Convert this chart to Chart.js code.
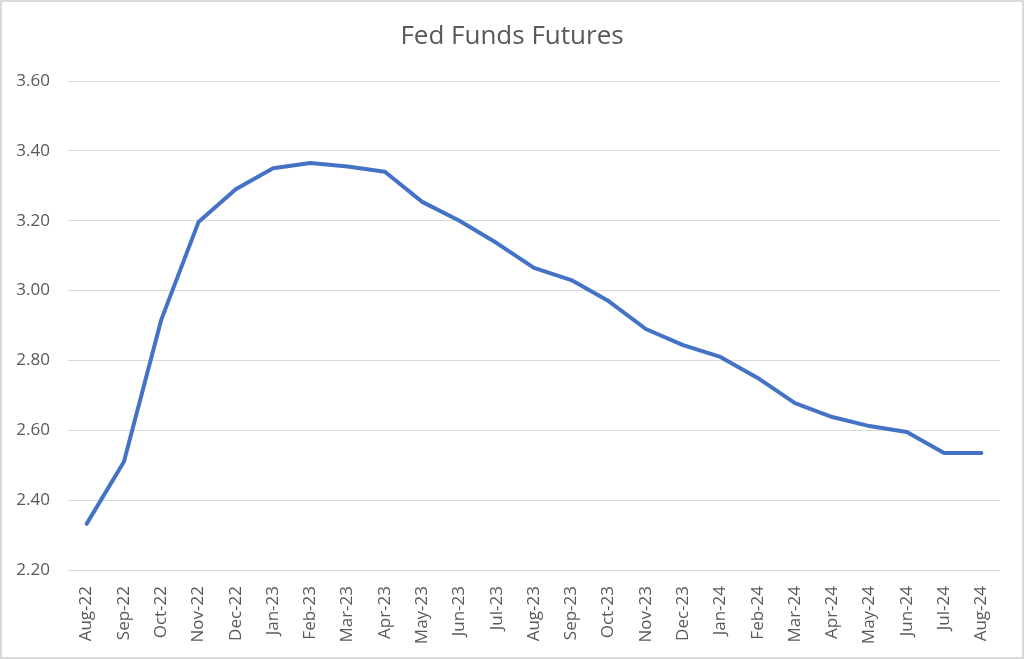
<!DOCTYPE html>
<html>
<head>
<meta charset="utf-8">
<script src="https://cdn.jsdelivr.net/npm/chart.js@4/dist/chart.umd.min.js"></script>
<style>
  html, body { margin: 0; padding: 0; background: #fff; }
  #wrap { width: 1024px; height: 659px; position: relative; }
</style>
</head>
<body>
<div id="wrap"><canvas id="chart"></canvas></div>
<script>
// ─── DATA ───
const months = ['Aug-22','Sep-22','Oct-22','Nov-22','Dec-22','Jan-23','Feb-23','Mar-23','Apr-23',
  'May-23','Jun-23','Jul-23','Aug-23','Sep-23','Oct-23','Nov-23','Dec-23','Jan-24','Feb-24',
  'Mar-24','Apr-24','May-24','Jun-24','Jul-24','Aug-24'];
const futures = [2.332, 2.51, 2.916, 3.196, 3.29, 3.35, 3.365, 3.355, 3.34,
  3.254, 3.20, 3.136, 3.065, 3.03, 2.97, 2.89, 2.844, 2.81, 2.75,
  2.678, 2.638, 2.612, 2.595, 2.535, 2.535];
const yMin = 2.2, yMax = 3.6, yStep = 0.2;

const fontFam = '"Open Sans", "Noto Sans", sans-serif';
const grey = '#595959';

// border round the whole picture
const frame = {
  id: 'frame',
  afterDraw(c) {
    const ctx = c.ctx;
    ctx.save();
    ctx.strokeStyle = '#d9d9d9';
    ctx.lineWidth = 2;
    ctx.strokeRect(1, 1, c.width - 2, c.height - 2);
    ctx.restore();
  }
};

new Chart(document.getElementById('chart'), {
  type: 'line',
  data: {
    labels: months,
    datasets: [{
      data: futures,
      borderColor: '#4472C4',
      borderWidth: 4,
      pointRadius: 0,
      tension: 0,
      borderCapStyle: 'round',
      borderJoinStyle: 'round'
    }]
  },
  options: {
    responsive: true,
    maintainAspectRatio: false,
    animation: false,
    layout: { padding: 0 },
    plugins: {
      legend: { display: false },
      tooltip: { enabled: false },
      title: {
        display: true,
        text: 'Fed Funds Futures',
        color: grey,
        font: { family: fontFam, size: 26, weight: 'normal', lineHeight: 1.2 },
        padding: { top: 21, bottom: 28.8 }
      }
    },
    scales: {
      x: {
        offset: true,
        grid: { display: false },
        border: { display: false },
        ticks: {
          color: grey,
          font: { family: fontFam, size: 17 },
          minRotation: 90, maxRotation: 90,
          autoSkip: false,
          padding: 8
        },
        afterFit(s) { s.height = 89; }
      },
      y: {
        min: yMin, max: yMax,
        grid: { color: '#d9d9d9', lineWidth: 1, drawTicks: false },
        border: { display: false },
        ticks: {
          stepSize: yStep,
          color: grey,
          font: { family: fontFam, size: 17 },
          padding: 18,
          callback: v => v.toFixed(2)
        },
        afterFit(s) { s.width = 68; }
      },
      // empty right margin so the title stays centred on the page
      yRight: {
        position: 'right',
        grid: { display: false },
        border: { display: false },
        ticks: { display: false },
        afterFit(s) { s.width = 24; }
      }
    }
  },
  plugins: [frame]
});
</script>
</body>
</html>
